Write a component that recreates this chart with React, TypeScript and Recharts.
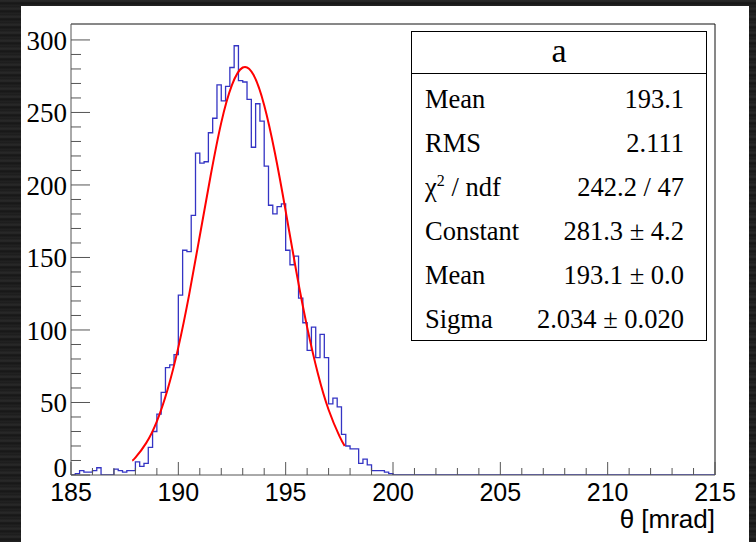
import { Line, LineChart, ReferenceLine, XAxis, YAxis } from "recharts";

// histogram: 150 bins of 0.2 mrad from 185, only the filled part is listed
const BIN_START = 185;
const BIN_WIDTH = 0.2;
const counts = [
  0, 1, 3, 2, 2, 3, 5, 0, 0, 0, 4, 3, 2, 3, 3, 9, 6, 8, 19, 30,
  42, 57, 74, 76, 83, 124, 155, 154, 179, 222, 215, 216, 236, 246, 269, 258, 268, 281, 296, 272,
  271, 259, 226, 256, 244, 213, 186, 180, 185, 187, 155, 145, 151, 122, 105, 86, 102, 81, 97, 81,
  49, 53, 47, 28, 20, 18, 18, 8, 11, 7, 3, 3, 3, 2, 1, 0,
];
const X_END = 215;

// gaus fit curve
const fitX = [187.85, 188, 188.5, 189, 189.5, 190, 190.5, 191, 191.5, 192, 192.5, 193, 193.5, 194, 194.5, 195, 195.5, 196, 196.5, 197, 197.5, 197.75];
const fitY = [10, 12, 22, 37, 59, 88, 124, 165, 206, 243, 269, 281, 276, 255, 222, 182, 140, 102, 70, 45, 27, 20];

const xTicks = [185, 186, 187, 188, 189, 190, 191, 192, 193, 194, 195, 196, 197, 198, 199, 200, 201, 202, 203, 204, 205, 206, 207, 208, 209, 210, 211, 212, 213, 214, 215];
const yTicks = [0, 10, 20, 30, 40, 50, 60, 70, 80, 90, 100, 110, 120, 130, 140, 150, 160, 170, 180, 190, 200, 210, 220, 230, 240, 250, 260, 270, 280, 290, 300];
const Y_MAX = 311;

const statLabels = ["Mean", "RMS", "chi2", "Constant", "Mean", "Sigma"];
const statValues = ["193.1", "2.111", "242.2 / 47", "281.3 \u00b1 4.2", "193.1 \u00b1 0.0", "2.034 \u00b1 0.020"];

const histData = [
  ...counts.map((c, i) => ({ x: BIN_START + i * BIN_WIDTH, y: c })),
  { x: X_END, y: 0 },
];
const fitData = fitX.map((x, i) => ({ x, y: fitY[i] }));

const SERIF = '"Liberation Serif", "Times New Roman", serif';
const SANS = '"Liberation Sans", Arial, sans-serif';
const AXIS = "#555";

function YTick(p: any) {
  const v = p.payload.value;
  const major = v % 50 === 0;
  return (
    <g>
      <line x1={p.x} x2={p.x + (major ? 19 : 10)} y1={p.y} y2={p.y} stroke={AXIS} />
      {major && (
        <text x={p.x - 4} y={p.y + (v === 0 ? 2 : 10)} textAnchor="end" fontFamily={SERIF} fontSize={27} fill="#000">
          {v}
        </text>
      )}
    </g>
  );
}

function XTick(p: any) {
  const v = p.payload.value;
  const major = v % 5 === 0;
  return (
    <g>
      <line x1={p.x} x2={p.x} y1={p.y} y2={p.y - (major ? 13 : 7)} stroke={AXIS} />
      {major && (
        <text x={p.x} y={p.y + 26} textAnchor="middle" fontFamily={SANS} fontSize={25} fill="#000">
          {v}
        </text>
      )}
    </g>
  );
}

function XLabel(p: any) {
  const vb = p.viewBox;
  return (
    <text x={vb.x + vb.width} y={vb.y + 53} textAnchor="end" fontFamily={SANS} fontSize={26} fill="#000">
      θ [mrad]
    </text>
  );
}

function StatBox() {
  return (
    <div
      style={{
        position: "absolute",
        left: 411,
        top: 31,
        width: 294,
        height: 308,
        border: "1px solid #000",
        background: "#fff",
        fontFamily: SERIF,
        color: "#000",
      }}
    >
      <div style={{ height: 41, borderBottom: "1px solid #000", textAlign: "center", fontSize: 34, lineHeight: "38px" }}>
        a
      </div>
      <div style={{ paddingTop: 3 }}>
        {statLabels.map((l, i) => (
          <div
            key={i}
            style={{
              height: 44,
              lineHeight: "44px",
              fontSize: 26.5,
              display: "flex",
              justifyContent: "space-between",
              padding: "0 22px 0 13px",
            }}
          >
            <span>
              {l === "chi2" ? (
                <>
                  χ<sup style={{ fontSize: 16, lineHeight: 0 }}>2</sup> / ndf
                </>
              ) : (
                l
              )}
            </span>
            <span>{statValues[i]}</span>
          </div>
        ))}
      </div>
    </div>
  );
}

export default function App() {
  return (
    <div
      style={{
        position: "fixed",
        left: 0,
        top: 0,
        width: 756,
        height: 542,
        overflow: "hidden",
        background: "repeating-linear-gradient(0deg, #232323 0px, #161616 3px, #2a2a2a 5px, #1b1b1b 8px)",
      }}
    >
      <div style={{ position: "absolute", left: 21, top: 6, width: 728, height: 536, background: "#fff" }} />
      <div style={{ position: "absolute", left: 0, top: 0 }}>
        <LineChart width={756} height={542} margin={{ top: 24, right: 41, bottom: 0, left: 0 }}>
          <XAxis
            dataKey="x"
            type="number"
            domain={[BIN_START, X_END]}
            ticks={xTicks}
            interval={0}
            height={67}
            tickSize={0}
            tickMargin={0}
            tick={<XTick />}
            axisLine={{ stroke: AXIS }}
            allowDataOverflow
            label={<XLabel />}
          />
          <YAxis
            type="number"
            domain={[0, Y_MAX]}
            ticks={yTicks}
            interval={0}
            width={71}
            tickSize={0}
            tickMargin={0}
            tick={<YTick />}
            axisLine={{ stroke: AXIS }}
            allowDataOverflow
          />
          <ReferenceLine y={Y_MAX} stroke="#111" ifOverflow="extendDomain" />
          <ReferenceLine x={X_END} stroke="#111" ifOverflow="extendDomain" />
          <Line
            data={histData}
            dataKey="y"
            type="stepAfter"
            stroke="#3434c4"
            strokeWidth={1.3}
            dot={false}
            isAnimationActive={false}
          />
          <Line
            data={fitData}
            dataKey="y"
            type="natural"
            stroke="#ff0000"
            strokeWidth={2}
            dot={false}
            isAnimationActive={false}
          />
        </LineChart>
      </div>
      <StatBox />
    </div>
  );
}
